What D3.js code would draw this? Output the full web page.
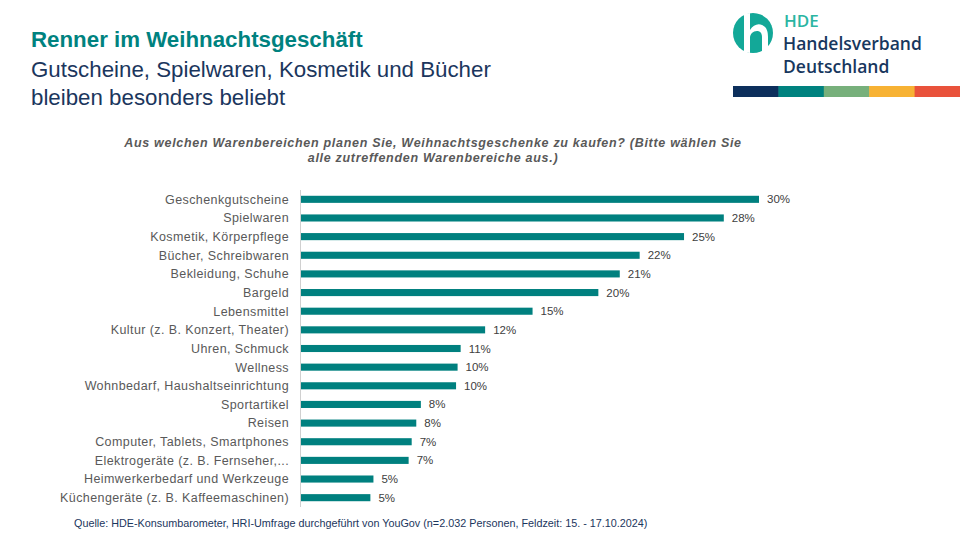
<!DOCTYPE html>
<html><head><meta charset="utf-8">
<script src="https://cdn.jsdelivr.net/npm/d3@7"></script>
<style>
body{margin:0;background:#fff;}
svg{display:block;font-family:"Liberation Sans",Arial,sans-serif;}
</style></head>
<body><svg id="c" width="960" height="540"></svg>
<script>
const categories = ["Geschenkgutscheine","Spielwaren","Kosmetik, Körperpflege","Bücher, Schreibwaren","Bekleidung, Schuhe","Bargeld","Lebensmittel","Kultur (z. B. Konzert, Theater)","Uhren, Schmuck","Wellness","Wohnbedarf, Haushaltseinrichtung","Sportartikel","Reisen","Computer, Tablets, Smartphones","Elektrogeräte (z. B. Fernseher,...","Heimwerkerbedarf und Werkzeuge","Küchengeräte (z. B. Kaffeemaschinen)"];
const values = [30.0,27.7,25.1,22.2,20.9,19.5,15.2,12.1,10.5,10.3,10.2,7.9,7.6,7.3,7.1,4.8,4.6];
const valueLabels = ["30%","28%","25%","22%","21%","20%","15%","12%","11%","10%","10%","8%","8%","7%","7%","5%","5%"];
const stripeColors = ["#0d2f5c","#00827f","#77b07b","#f7b234","#e9523b"];

const svg = d3.select("#c");

// Titles
svg.append("text").attr("x",31).attr("y",47).attr("fill","#00827f")
  .attr("font-size",22.3).attr("font-weight","bold").text("Renner im Weihnachtsgeschäft");
svg.append("text").attr("x",31).attr("y",77).attr("fill","#1b365d")
  .attr("font-size",22.3).text("Gutscheine, Spielwaren, Kosmetik und Bücher");
svg.append("text").attr("x",31).attr("y",105).attr("fill","#1b365d")
  .attr("font-size",22.3).text("bleiben besonders beliebt");

// Logo
const logo = svg.append("g");
logo.append("circle").attr("cx",753).attr("cy",33).attr("r",20).attr("fill","#13a898");
logo.append("path").attr("fill","#fff")
  .attr("d","M744,14 L750,13 L750,30 C753,25 758,23 762,25 C767,27 768,32 768,37 L768,52 L762,53 L762,37 C762,33 760,31 757,31 C753,31 750,34 750,38 L750,53 L744,52 Z");
const lf = '"Open Sans","Noto Sans",sans-serif';
svg.append("text").attr("x",784).attr("y",27).attr("fill","#2bb5a2").attr("font-family",lf).attr("font-weight",600).attr("font-size",17).text("HDE");
svg.append("text").attr("x",783).attr("y",50).attr("fill","#17375e").attr("font-family",lf).attr("font-weight",600).attr("font-size",17.5).text("Handelsverband");
svg.append("text").attr("x",783).attr("y",73).attr("fill","#17375e").attr("font-family",lf).attr("font-weight",600).attr("font-size",17.5).text("Deutschland");
const sx = d3.scaleBand().domain(stripeColors.map((c,i)=>i)).range([733,960]);
svg.selectAll("rect.stripe").data(stripeColors).join("rect").attr("class","stripe")
  .attr("x",(d,i)=>sx(i)).attr("y",86).attr("width",sx.bandwidth()+0.5).attr("height",11).attr("fill",d=>d);

// Question
const q = svg.append("text").attr("fill","#595959").attr("font-size",12.5).attr("font-style","italic")
  .attr("text-anchor","middle").attr("font-weight","bold").attr("letter-spacing",0.7);
q.append("tspan").attr("x",433).attr("y",147).text("Aus welchen Warenbereichen planen Sie, Weihnachtsgeschenke zu kaufen? (Bitte wählen Sie");
q.append("tspan").attr("x",433).attr("y",162).text("alle zutreffenden Warenbereiche aus.)");

// Chart
const x = d3.scaleLinear().domain([0,30]).range([300,759]);
const y = d3.scaleBand().domain(categories).range([190,507]).paddingInner(0.62).paddingOuter(0.31);

svg.selectAll("rect.bar").data(categories).join("rect").attr("class","bar")
  .attr("x",x(0)).attr("y",d=>y(d)).attr("height",y.bandwidth())
  .attr("width",(d,i)=>x(values[i])-x(0)).attr("fill","#00807f");

svg.append("line").attr("x1",300.5).attr("x2",300.5).attr("y1",190).attr("y2",507)
  .attr("stroke","#d0d0d0").attr("stroke-width",1);

svg.selectAll("text.cat").data(categories).join("text").attr("class","cat")
  .attr("x",289).attr("y",d=>y(d)+y.bandwidth()/2).attr("dy","0.35em")
  .attr("text-anchor","end").attr("font-size",12.5).attr("letter-spacing",0.4).attr("fill","#595959").text(d=>d);

svg.selectAll("text.val").data(categories).join("text").attr("class","val")
  .attr("x",(d,i)=>x(values[i])+8).attr("y",d=>y(d)+y.bandwidth()/2).attr("dy","0.35em")
  .attr("font-size",11.5).attr("fill","#404040").text((d,i)=>valueLabels[i]);

// Footer
svg.append("text").attr("x",74).attr("y",527).attr("fill","#1b365d").attr("font-size",10.8)
  .text("Quelle: HDE-Konsumbarometer, HRI-Umfrage durchgeführt von YouGov (n=2.032 Personen, Feldzeit: 15. - 17.10.2024)");
</script></body></html>
